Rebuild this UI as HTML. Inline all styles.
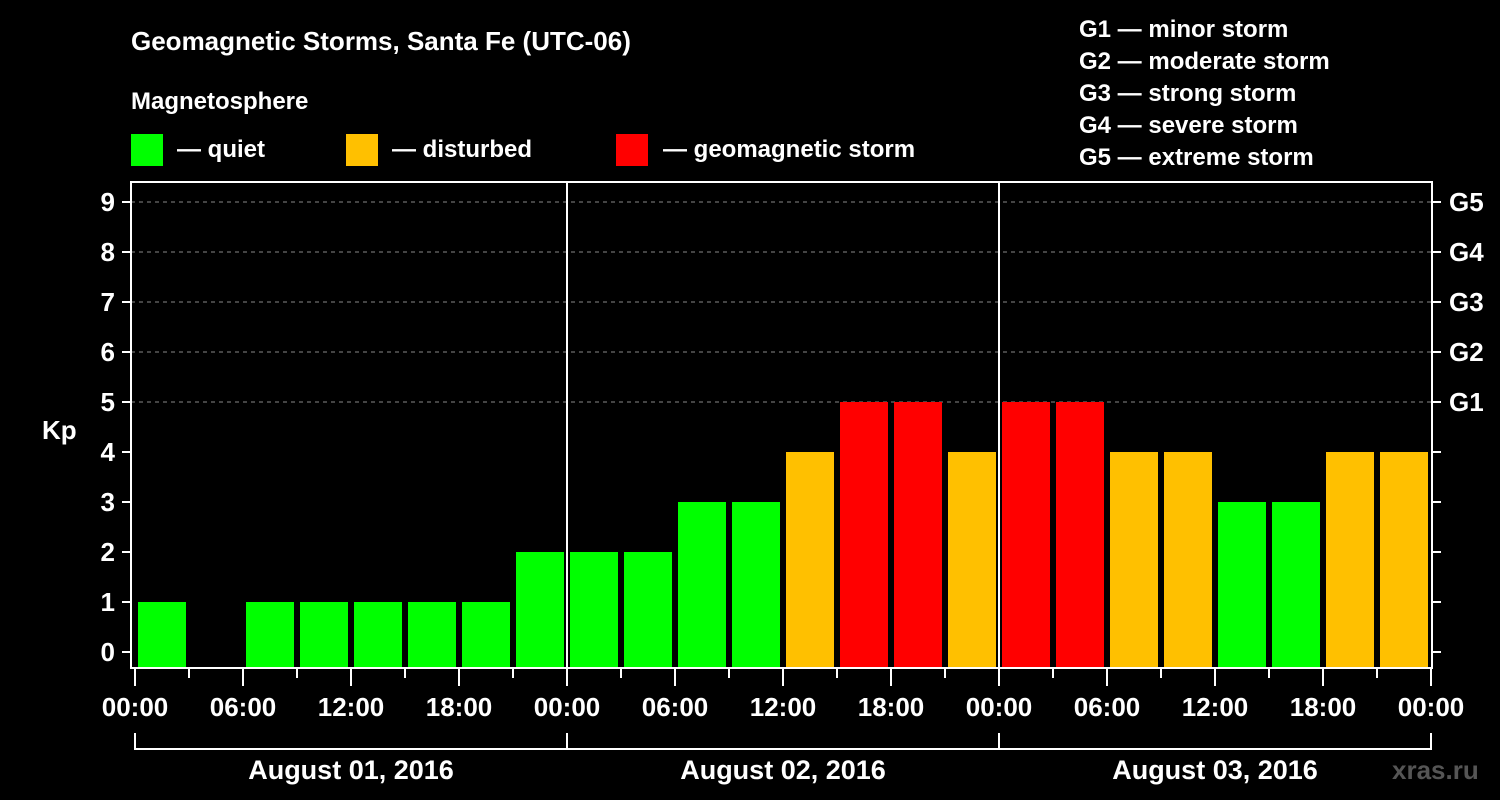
<!DOCTYPE html>
<html><head><meta charset="utf-8"><style>
html,body{margin:0;padding:0;background:#000;}
svg{display:block;font-family:"Liberation Sans",Arial,sans-serif;font-weight:bold;}
</style></head><body>
<svg id="chart" width="1500" height="800" xmlns="http://www.w3.org/2000/svg">
<rect width="1500" height="800" fill="#000"/>
<text x="131" y="50" fill="#fff" font-size="26">Geomagnetic Storms, Santa Fe (UTC-06)</text>
<text x="131" y="109" fill="#fff" font-size="24">Magnetosphere</text>
<g><rect x="131" y="134" width="32" height="32" fill="#00ff00"/><text x="177" y="157" fill="#fff" font-size="24">— quiet</text></g>
<g><rect x="346" y="134" width="32" height="32" fill="#ffc000"/><text x="392" y="157" fill="#fff" font-size="24">— disturbed</text></g>
<g><rect x="616" y="134" width="32" height="32" fill="#ff0000"/><text x="663" y="157" fill="#fff" font-size="24">— geomagnetic storm</text></g>
<g fill="#fff" font-size="24">
<text x="1079" y="37">G1 — minor storm</text>
<text x="1079" y="69">G2 — moderate storm</text>
<text x="1079" y="101">G3 — strong storm</text>
<text x="1079" y="133">G4 — severe storm</text>
<text x="1079" y="165">G5 — extreme storm</text>
</g>
<text x="42" y="439" fill="#fff" font-size="26">Kp</text>
<text x="1392" y="779" fill="#555" font-size="26">xras.ru</text>
<g id="grid"></g><g id="bars"></g><g id="axes"></g>
</svg>
<script>
const days = ["August 01, 2016","August 02, 2016","August 03, 2016"];
const kpValues = [1,0,1,1,1,1,1,2, 2,2,3,3,4,5,5,4, 5,5,4,4,3,3,4,4];
const yTicks = [0,1,2,3,4,5,6,7,8,9];
const gLabels = ["G1","G2","G3","G4","G5"];
const hourLabels = ["00:00","06:00","12:00","18:00"];

const NS="http://www.w3.org/2000/svg";
const X0=135, DAYW=432, LEFT=131, RIGHT=1432, TOP=182, BOT=668;
const slotW=DAYW/8;
function xs(i){return X0+i*slotW;}
function ys(v){return 652-v*50;}
function mk(tag,attrs,parent,text){const e=document.createElementNS(NS,tag);for(const k in attrs)e.setAttribute(k,attrs[k]);if(text!==undefined)e.textContent=text;parent.appendChild(e);return e;}
const grid=document.getElementById('grid'),bars=document.getElementById('bars'),axes=document.getElementById('axes');
yTicks.forEach(v=>{
  if(v>=5){const l=mk('line',{x1:LEFT,x2:RIGHT,y1:ys(v),y2:ys(v),stroke:'#888','stroke-dasharray':'4,4','stroke-width':1},grid);
  
  }
  const t=mk('line',{x1:122,x2:LEFT,y1:ys(v),y2:ys(v),stroke:'#fff','stroke-width':2},axes);
  
  
  const t2=mk('line',{x1:RIGHT,x2:1441,y1:ys(v),y2:ys(v),stroke:'#fff','stroke-width':2},axes);
  
  
  const lb=mk('text',{x:115,y:ys(v)+9,'text-anchor':'end',fill:'#fff','font-size':26},axes,String(v));
  
  
});
gLabels.forEach((g,i)=>{
  const lb=mk('text',{x:1449,y:ys(5+i)+9,fill:'#fff','font-size':26},axes,g);
  
  
});
kpValues.forEach((v,i)=>{
  const c=v>=5?'#ff0000':(v>=4?'#ffc000':'#00ff00');
  const y=ys(v);
  if(v<=0)return;
  const r=mk('rect',{x:xs(i)+3,y:y,width:slotW-6,height:BOT-y,fill:c},bars);
  
  
});
const fr=mk('rect',{x:LEFT,y:TOP,width:RIGHT-LEFT,height:BOT-TOP,fill:'none',stroke:'#fff','stroke-width':2},axes);


for(let d=1;d<days.length;d++){
  const l=mk('line',{x1:X0+d*DAYW,x2:X0+d*DAYW,y1:TOP,y2:BOT,stroke:'#fff','stroke-width':2},axes);
  
  
}
for(let i=0;i<=days.length*8;i++){
  const major=i%2===0;
  const t=mk('line',{x1:xs(i),x2:xs(i),y1:BOT,y2:major?686:678,stroke:'#fff','stroke-width':2},axes);
  
  
  if(major){
    const lb=mk('text',{x:xs(i),y:716,'text-anchor':'middle',fill:'#fff','font-size':26},axes,hourLabels[(i/2)%4]);
    
    
  }
}
days.forEach((d,k)=>{
  const a=X0+k*DAYW,b=a+DAYW;
  const p=mk('path',{d:`M${a},733 V749 H${b} V733`,fill:'none',stroke:'#fff','stroke-width':2},axes);
  
  
  const lb=mk('text',{x:(a+b)/2,y:779,'text-anchor':'middle',fill:'#fff','font-size':27},axes,d);
  
  
});
</script>
</body></html>
